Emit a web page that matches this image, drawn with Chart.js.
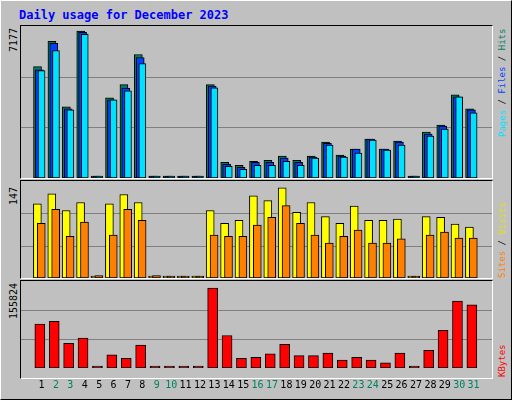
<!DOCTYPE html>
<html><head><meta charset="utf-8">
<script src="https://cdn.jsdelivr.net/npm/chart.js@4"></script>
<style>
body{margin:0;background:#fff}
#wrap{position:relative;width:510px;height:398px;background:#c0c0c0;border-top:1px solid #fff;border-left:1px solid #fff;border-right:1px solid #000;border-bottom:1px solid #000;overflow:hidden;font-family:"DejaVu Sans Mono",monospace}
.frame{position:absolute;border-top:1px solid #000;border-left:1px solid #000;border-right:1px solid #fff;border-bottom:1px solid #fff}
canvas{position:absolute}
.lbl{position:absolute;font-size:10px;white-space:nowrap;transform-origin:0 0;transform:rotate(-90deg)}
.rl{font-size:9px}
#title{position:absolute;left:18px;top:7px;color:#0000ff;font-weight:bold;font-size:12px}
</style></head><body>
<div id="wrap">
<div id="title">Daily usage for December 2023</div>
<div class="frame" style="left:19px;top:24px;width:471px;height:152px"></div>
<div class="frame" style="left:19px;top:179px;width:471px;height:97px"></div>
<div class="frame" style="left:19px;top:279px;width:471px;height:97px"></div>
<canvas id="c1" width="471" height="152" style="left:20px;top:25px"></canvas>
<canvas id="c2" width="471" height="97" style="left:20px;top:180px"></canvas>
<canvas id="c3" width="471" height="113" style="left:20px;top:280px"></canvas>
<div class="lbl" style="left:7px;top:51px">7177</div>
<div class="lbl" style="left:7px;top:204px">147</div>
<div class="lbl" style="left:7px;top:318px">155824</div>
<div class="lbl rl" style="left:496px;top:136px"><span style="color:#00e0ff">Pages</span><span style="color:#000"> / </span><span style="color:#0040ff">Files</span><span style="color:#000"> / </span><span style="color:#008060">Hits</span></div>
<div class="lbl rl" style="left:496px;top:277px"><span style="color:#ff8000">Sites</span><span style="color:#000"> / </span><span style="color:#e0e000">Visits</span></div>
<div class="lbl rl" style="left:496px;top:376px;color:#ff0000">KBytes</div>
</div>
<script>
const days=[1,2,3,4,5,6,7,8,9,10,11,12,13,14,15,16,17,18,19,20,21,22,23,24,25,26,27,28,29,30,31];
const hits=[5441,6670,3474,7177,0,3917,4556,6031,0,0,0,0,4556,770,623,819,869,1065,869,1065,1754,1114,1410,1901,1410,1803,0,2245,2590,4065,3376];
const files=[5277,6572,3376,7113,0,3818,4392,5884,0,0,0,0,4490,672,524,770,770,967,770,1016,1688,1065,1410,1901,1410,1754,0,2147,2540,3966,3327];
const pages=[5244,6228,3327,7014,0,3818,4261,5589,0,0,0,0,4408,574,426,623,623,819,623,967,1606,1016,1213,1852,1360,1606,0,2049,2393,3966,3180];
const visits=[121,137,110,123,3,121,136,123,3,3,1,1,110,89,94,134,126,147,107,123,100,89,117,94,94,96,3,100,99,88,83];
const sites=[89,112,68,91,4,70,112,94,4,3,1,1,70,68,68,86,99,118,89,70,57,68,78,57,57,64,3,70,75,65,65];
const kbytes=[85620,90760,47950,58220,0,25690,18840,44520,0,0,0,0,155824,63360,18840,20550,27400,46230,23970,23970,29110,15410,20550,15410,10270,29110,0,34250,73630,130140,123290];

const pts=(arr,off)=>arr.map((v,i)=>({x:days[i]+off,y:v}));
const ds=(arr,off,color,w,order)=>({data:pts(arr,off),backgroundColor:color,borderColor:'#000',borderWidth:1,borderSkipped:false,barThickness:w,grouped:false,order:order,minBarLength:2});
const gridPlugin={id:'thirds',beforeDatasetsDraw(ch){
  const y=ch.scales.y,a=ch.chartArea,ctx=ch.ctx;ctx.save();ctx.strokeStyle='#808080';ctx.lineWidth=1;
  [1,2].forEach(k=>{const p=Math.round(y.getPixelForValue(y.max*k/3))+0.5;ctx.beginPath();ctx.moveTo(a.left,p);ctx.lineTo(a.right,p);ctx.stroke();});
  ctx.restore();}};
function opts(ymax,showX){
  return {responsive:false,animation:false,devicePixelRatio:1,
    layout:{padding:0},
    plugins:{legend:{display:false},tooltip:{enabled:false}},
    scales:{
      x:{type:'linear',min:0.1,max:31.75,display:showX,
        afterBuildTicks:s=>{s.ticks=days.map(v=>({value:v}));},
        grid:{display:false},border:{display:false},
        ticks:{padding:3,autoSkip:false,maxRotation:0,font:{family:'DejaVu Sans Mono',size:10},
          color:c=>{const d=new Date(2023,11,c.tick.value).getDay();return (d==0||d==6)?'#008060':'#000';}}},
      y:{min:0,max:ymax,display:false}
    }};
}
new Chart(document.getElementById('c1'),{type:'bar',plugins:[gridPlugin],data:{datasets:[
  ds(hits,-0.28,'#008060',8,3),ds(files,-0.15,'#0040ff',8,2),ds(pages,0,'#00e0ff',7,1)]},options:opts(7177*151/146,false)});
new Chart(document.getElementById('c2'),{type:'bar',plugins:[gridPlugin],data:{datasets:[
  ds(visits,-0.29,'#ffff00',8,2),ds(sites,-0.02,'#ff8000',8,1)]},options:opts(158,false)});
new Chart(document.getElementById('c3'),{type:'bar',plugins:[gridPlugin],data:{datasets:[
  ds(kbytes,-0.12,'#ff0000',10,1)]},options:opts(169500,true)});
</script>
</body></html>
